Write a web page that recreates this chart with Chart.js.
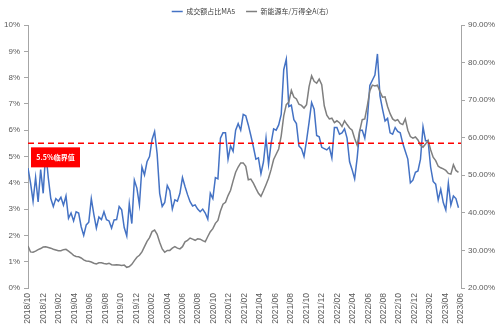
<!DOCTYPE html>
<html>
<head>
<meta charset="utf-8">
<script src="https://cdn.jsdelivr.net/npm/chart.js@4"></script>
<style>
  html, body { margin: 0; padding: 0; background: #fff; }
  #wrap { width: 500px; height: 329px; }
</style>
</head>
<body>
<div id="wrap"><canvas id="chart" width="500" height="329"></canvas></div>
<script>
// x axis tick labels, one every 2 months
const monthTicks = [
  "2018/10", "2018/12", "2019/02", "2019/04", "2019/06", "2019/08", "2019/10", "2019/12",
  "2020/02", "2020/04", "2020/06", "2020/08", "2020/10", "2020/12", "2021/02", "2021/04",
  "2021/06", "2021/08", "2021/10", "2021/12", "2022/02", "2022/04", "2022/06", "2022/08",
  "2022/10", "2022/12", "2023/02", "2023/04", "2023/06"
];
const spanMonths = 56;

// 成交额占比MA5 (left axis, %), roughly 3 readings per month
const turnoverShare = [
  4.56, 4.0, 3.3, 4.2, 3.27, 4.5, 3.6, 5.2, 4.2, 3.4,
  3.1, 3.4, 3.3, 3.45, 3.15, 3.5, 2.65, 2.85, 2.55, 2.9,
  2.85, 2.33, 2.0, 2.4, 2.5, 3.4, 2.8, 2.28, 2.7, 2.6,
  2.9, 2.6, 2.55, 2.28, 2.59, 2.6, 3.1, 2.97, 2.3, 1.98,
  3.2, 2.45, 4.1, 3.8, 3.16, 4.6, 4.3, 4.8, 5.0, 5.65,
  5.95, 5.1, 3.6, 3.1, 3.25, 3.9, 3.7, 3.0, 3.35, 3.3,
  3.6, 4.2, 3.86, 3.55, 3.28, 3.12, 3.16, 3.0, 2.9, 3.0,
  2.85, 2.62, 3.6, 3.4, 4.2, 4.15, 5.7, 5.9, 5.9, 4.9,
  5.4, 5.2, 6.0, 6.25, 6.0, 6.6, 6.55, 6.2, 5.8, 5.37,
  4.9, 4.95, 4.35, 4.8, 5.7, 4.7, 5.5, 6.05, 6.0, 6.2,
  6.6, 8.3, 8.7, 6.9, 6.95, 6.4, 6.25, 5.4, 5.3, 5.0,
  5.6, 6.3, 7.05, 6.8, 5.8, 5.75, 5.35, 5.3, 5.25, 5.35,
  4.94, 6.1, 6.1, 5.85, 5.9, 6.05, 5.7, 4.8, 4.5, 4.15,
  4.95, 6.0, 6.0, 5.7, 6.39, 7.7, 7.9, 8.1, 8.9, 7.3,
  6.8, 6.35, 6.45, 5.9, 5.85, 6.1, 5.95, 5.9, 5.5, 5.2,
  4.9, 4.0, 4.1, 4.4, 4.45, 4.9, 6.13, 5.6, 5.6, 4.6,
  4.05, 3.95, 3.35, 3.75, 3.25, 2.97, 3.98, 3.15, 3.5, 3.4,
  3.05
];

// 新能源车/万得全A (right axis, %)
const evRatio = [
  31.2, 29.6, 29.5, 29.8, 30.2, 30.5, 30.9, 31.0, 30.8, 30.6,
  30.3, 30.1, 29.9, 29.9, 30.2, 30.3, 29.8, 29.3, 28.7, 28.4,
  28.3, 28.0, 27.5, 27.2, 27.1, 26.9, 26.6, 26.4, 26.7, 26.7,
  26.5, 26.4, 26.6, 26.2, 26.1, 26.2, 26.1, 26.0, 26.1, 25.5,
  25.7, 26.3, 27.3, 28.2, 28.7, 29.6, 31.0, 32.4, 33.4, 35.0,
  35.4, 34.3, 32.2, 30.4, 29.5, 30.0, 30.0, 30.6, 31.0, 30.6,
  30.4, 31.0, 32.3, 32.7, 33.3, 33.0, 32.7, 33.1, 33.0, 32.6,
  32.3, 33.7, 35.0, 35.8, 37.2, 38.0, 40.5, 42.3, 42.8, 44.6,
  46.0, 48.5, 50.8, 52.2, 53.3, 53.3, 52.4, 48.8, 49.0, 47.9,
  46.5, 45.2, 44.4, 45.9, 47.5, 49.2, 51.5, 54.2, 55.6, 57.0,
  60.5, 65.8, 68.8, 69.5, 72.6, 70.8, 70.3, 68.9, 68.6, 67.9,
  68.8, 73.6, 76.5, 75.0, 74.5, 75.6, 74.1, 68.5, 66.0, 65.0,
  65.2, 64.0, 64.5, 64.0, 63.0, 64.5, 63.5, 62.6, 62.0, 59.8,
  58.0, 61.8, 64.8, 65.0, 68.5, 72.5, 74.0, 73.8, 74.0, 72.3,
  70.8, 70.9, 68.3, 66.4, 65.0, 64.5, 64.8, 63.8, 63.5, 65.0,
  62.0, 60.3, 59.9, 60.2, 59.4, 58.0, 57.5, 58.3, 59.3, 56.8,
  54.8, 53.9, 52.4, 52.0, 51.7, 51.3, 50.5, 50.3, 52.8, 51.3,
  50.8
];

const thresholdValue = 5.5;
const thresholdText = "5.5%临界值";

function toPoints(values) {
  const step = spanMonths / values.length;
  return values.map((v, i) => ({ x: i * step, y: v }));
}

const axisGray = "#A6A6A6";
const tickColor = "#595959";
const fontFamily = '"Liberation Sans", Arial, "Noto Sans CJK SC", sans-serif';

// red box under the dashed line
const thresholdLabel = {
  id: "thresholdLabel",
  afterDatasetsDraw(chart) {
    const { ctx, chartArea, scales } = chart;
    const y = scales.y.getPixelForValue(thresholdValue);
    const left = chartArea.left + 3, top = y + 4, w = 49, h = 20;
    ctx.save();
    ctx.fillStyle = "#FF0000";
    ctx.fillRect(left, top, w, h);
    ctx.fillStyle = "#FFFFFF";
    ctx.font = 'bold 7px "Noto Sans CJK SC", sans-serif';
    ctx.textAlign = "center";
    ctx.textBaseline = "middle";
    ctx.fillText(thresholdText, left + w / 2, top + h / 2);
    ctx.restore();
  }
};

new Chart(document.getElementById("chart"), {
  type: "line",
  data: {
    datasets: [
      {
        label: "成交额占比MA5",
        data: toPoints(turnoverShare),
        yAxisID: "y",
        borderColor: "#4472C4",
        borderWidth: 1.5,
        pointRadius: 0,
        tension: 0,
        order: 1
      },
      {
        label: "新能源车/万得全A(右)",
        data: toPoints(evRatio),
        yAxisID: "y1",
        borderColor: "#7F7F7F",
        borderWidth: 1.5,
        pointRadius: 0,
        tension: 0,
        order: 0
      },
      {
        label: thresholdText,
        data: [{ x: 0, y: thresholdValue }, { x: spanMonths, y: thresholdValue }],
        yAxisID: "y",
        borderColor: "#FF0000",
        borderWidth: 1.5,
        borderDash: [6, 4],
        pointRadius: 0,
        order: -1
      }
    ]
  },
  options: {
    responsive: false,
    animation: false,
    devicePixelRatio: 1,
    layout: { padding: { top: -3 } },
    font: { family: fontFamily },
    plugins: {
      tooltip: { enabled: false },
      legend: {
        position: "top",
        labels: {
          usePointStyle: true,
          pointStyle: "line",
          pointStyleWidth: 11,
          padding: 11,
          color: "#404040",
          font: { size: 7, family: '"Noto Sans CJK SC", sans-serif' },
          filter: item => item.datasetIndex < 2,
          sort: (a, b) => a.datasetIndex - b.datasetIndex
        }
      }
    },
    scales: {
      x: {
        type: "linear",
        min: 0,
        max: spanMonths,
        grid: { display: false, drawTicks: false },
        border: { display: false },
        ticks: {
          stepSize: 2,
          autoSkip: false,
          minRotation: 90,
          maxRotation: 90,
          padding: 5,
          color: tickColor,
          font: { size: 8.5, family: fontFamily },
          callback: v => monthTicks[Math.round(v / 2)]
        },
        afterFit: s => { s.height = 41; }
      },
      y: {
        position: "left",
        min: 0,
        max: 10,
        grid: { drawOnChartArea: false, color: axisGray, tickLength: 4 },
        border: { color: axisGray },
        ticks: {
          stepSize: 1,
          color: tickColor,
          padding: 4,
          font: { size: 8, family: fontFamily },
          callback: v => v + "%"
        },
        afterFit: s => { s.width = 28; }
      },
      y1: {
        position: "right",
        min: 20,
        max: 90,
        grid: { drawOnChartArea: false, color: axisGray, tickLength: 4 },
        border: { color: axisGray },
        ticks: {
          stepSize: 10,
          color: tickColor,
          padding: 3,
          font: { size: 8, family: fontFamily },
          callback: v => v.toFixed(2) + "%"
        },
        afterFit: s => { s.width = 39; }
      }
    }
  },
  plugins: [thresholdLabel]
});
</script>
</body>
</html>
